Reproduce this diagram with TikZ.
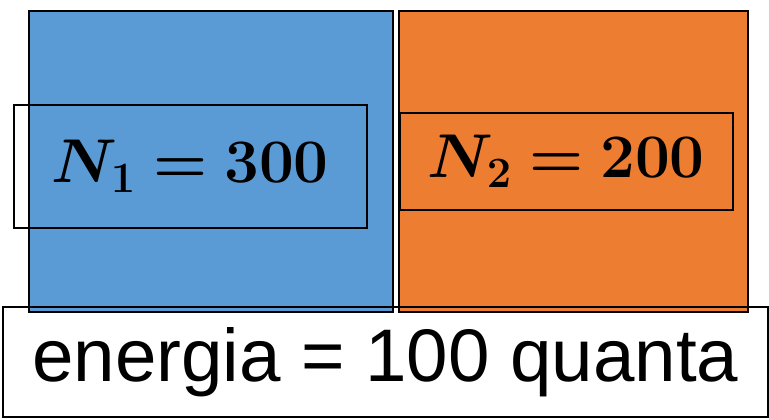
\documentclass[tikz,border=0pt]{standalone}
\usepackage{fix-cm}
\usepackage{amsmath, amssymb, bm}
\usepackage{fontspec}
\newfontfamily\labelfont{Liberation Sans}
\usepackage{tikz}
\usetikzlibrary{positioning}
\definecolor{SysBlue}{HTML}{5B9BD5}
\definecolor{SysOrange}{HTML}{ED7D31}

\begin{document}
\begin{tikzpicture}[
    x=1cm, y=1cm,
    sysbox/.style={draw=black, line width=1.5pt, anchor=north west, inner sep=0pt},
    numbox/.style={draw=black, line width=1.2pt, anchor=north west, inner sep=0pt,
      font=\fontsize{44}{52}\selectfont},
    enbox/.style={draw=black, line width=1.2pt, anchor=north west, inner sep=0pt,
      font=\labelfont\fontsize{53}{61}\selectfont},
  ]
  \useasboundingbox (0,0) rectangle (19.225,10.475);
  % --- two systems ---
  \node[sysbox, fill=SysBlue, minimum width=9.1cm, minimum height=7.525cm] (sysA) at (0.7,10.225) {};
  \node[sysbox, fill=SysOrange, minimum width=8.725cm, minimum height=7.525cm] (sysB) at (9.95,10.225) {};
  % --- particle numbers ---
  \node[numbox, minimum width=8.825cm, minimum height=3.075cm] (numA) at (0.325,7.875) {$\bm{N_1 = 300}$};
  \node[numbox, minimum width=8.325cm, minimum height=2.425cm] (numB) at (9.975,7.675) {$\bm{N_2 = 200}$};
  % --- total energy ---
  \node[enbox, minimum width=19.125cm, minimum height=2.75cm] (energy) at (0.05,2.825) {energia = 100 quanta};
\end{tikzpicture}
\end{document}
